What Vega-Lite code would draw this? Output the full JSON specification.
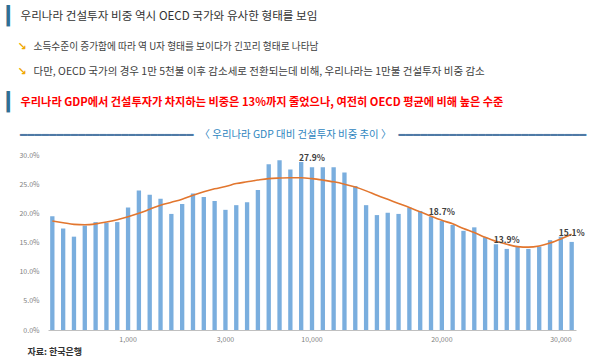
{
  "$schema": "https://vega.github.io/schema/vega-lite/v6.json",
  "padding": 0,
  "spacing": 0,
  "background": "white",
  "config": {
    "view": {"stroke": null},
    "font": "Noto Sans CJK KR",
    "concat": {"spacing": 0},
    "axisY": {
      "values": [0, 0.05, 0.1, 0.15, 0.2, 0.25, 0.3],
      "format": ".1%",
      "grid": false,
      "domain": false,
      "ticks": false,
      "labelFontSize": 7,
      "labelColor": "#808080",
      "labelPadding": 9,
      "minExtent": 48,
      "labelOverlap": false
    }
  },
  "vconcat": [
    {
      "width": 1,
      "height": 30,
      "data": {"values": [{"t": "우리나라 건설투자 비중 역시 OECD 국가와 유사한 형태를 보임"}]},
      "layer": [
        {"mark": {"type": "text", "text": "▎", "font": "DejaVu Sans", "fontSize": 18, "color": "#2f6f93", "align": "left", "baseline": "middle", "dx": -42, "dy": 2}},
        {"mark": {"type": "text", "align": "left", "baseline": "middle", "dx": -28, "dy": 2, "fontSize": 11.6, "color": "#333333"}, "encoding": {"text": {"field": "t"}}}
      ]
    },
    {
      "width": 1,
      "height": 30,
      "data": {"values": [{"t": "소득수준이 증가함에 따라 역 U자 형태를 보이다가 긴꼬리 형태로 나타남"}]},
      "layer": [
        {"mark": {"type": "text", "text": "↘", "font": "DejaVu Sans", "fontWeight": "bold", "fontSize": 11, "color": "#f0a800", "align": "left", "baseline": "middle", "dx": -31, "dy": 1.5}},
        {"mark": {"type": "text", "align": "left", "baseline": "middle", "dx": -15, "dy": 1.5, "fontSize": 9.7, "color": "#404040"}, "encoding": {"text": {"field": "t"}}}
      ]
    },
    {
      "width": 1,
      "height": 20,
      "data": {"values": [{"t": "다만, OECD 국가의 경우 1만 5천불 이후 감소세로 전환되는데 비해, 우리나라는 1만불 건설투자 비중 감소"}]},
      "layer": [
        {"mark": {"type": "text", "text": "↘", "font": "DejaVu Sans", "fontWeight": "bold", "fontSize": 11, "color": "#f0a800", "align": "left", "baseline": "middle", "dx": -31, "dy": 1.5}},
        {"mark": {"type": "text", "align": "left", "baseline": "middle", "dx": -15, "dy": 1.5, "fontSize": 10.5, "color": "#404040"}, "encoding": {"text": {"field": "t"}}}
      ]
    },
    {
      "width": 1,
      "height": 43,
      "data": {"values": [{"t": "우리나라 GDP에서 건설투자가 차지하는 비중은 13%까지 줄었으나, 여전히 OECD 평균에 비해 높은 수준"}]},
      "layer": [
        {"mark": {"type": "text", "text": "▎", "font": "DejaVu Sans", "fontSize": 18, "color": "#2f6f93", "align": "left", "baseline": "middle", "dx": -42, "dy": 1.5}},
        {"mark": {"type": "text", "align": "left", "baseline": "middle", "dx": -28, "dy": 1.5, "fontSize": 11.2, "fontWeight": "bold", "color": "#ff0000"}, "encoding": {"text": {"field": "t"}}}
      ]
    },
    {
      "width": 1,
      "height": 28,
      "data": {"values": [{"t": "〈 우리나라 GDP 대비 건설투자 비중 추이 〉"}]},
      "layer": [
        {"mark": {"type": "text", "text": "━━━━━━━━━━━━━━━━━━━━━━━━", "font": "DejaVu Sans", "fontSize": 12, "color": "#4f7aa6", "align": "right", "baseline": "middle", "dx": 145, "dy": -2.5}},
        {"mark": {"type": "text", "text": "━━━━━━━━━━━━━━━━━━━━━━━━━━", "font": "DejaVu Sans", "fontSize": 12, "color": "#4f7aa6", "align": "left", "baseline": "middle", "dx": 350, "dy": -2.5}},
        {"mark": {"type": "text", "align": "center", "baseline": "middle", "dx": 247, "dy": -2.5, "fontSize": 10.4, "color": "#2f86c0"}, "encoding": {"text": {"field": "t"}}}
      ]
    },
    {
      "width": 528,
      "height": 175,
      "data": {"values": [
        {"year": 1970, "share": 0.195, "trend": 0.187},
        {"year": 1971, "share": 0.174, "trend": 0.184},
        {"year": 1972, "share": 0.160, "trend": 0.181},
        {"year": 1973, "share": 0.179, "trend": 0.1805},
        {"year": 1974, "share": 0.185, "trend": 0.182},
        {"year": 1975, "share": 0.184, "trend": 0.185},
        {"year": 1976, "share": 0.185, "trend": 0.189},
        {"year": 1977, "share": 0.210, "trend": 0.194},
        {"year": 1978, "share": 0.239, "trend": 0.200},
        {"year": 1979, "share": 0.232, "trend": 0.207},
        {"year": 1980, "share": 0.225, "trend": 0.214},
        {"year": 1981, "share": 0.199, "trend": 0.219},
        {"year": 1982, "share": 0.216, "trend": 0.224},
        {"year": 1983, "share": 0.234, "trend": 0.231},
        {"year": 1984, "share": 0.228, "trend": 0.237},
        {"year": 1985, "share": 0.221, "trend": 0.242},
        {"year": 1986, "share": 0.206, "trend": 0.246},
        {"year": 1987, "share": 0.214, "trend": 0.251},
        {"year": 1988, "share": 0.219, "trend": 0.254},
        {"year": 1989, "share": 0.240, "trend": 0.257},
        {"year": 1990, "share": 0.284, "trend": 0.2595},
        {"year": 1991, "share": 0.291, "trend": 0.2605},
        {"year": 1992, "share": 0.275, "trend": 0.261},
        {"year": 1993, "share": 0.288, "trend": 0.261},
        {"year": 1994, "share": 0.279, "trend": 0.2595, "labeled": true},
        {"year": 1995, "share": 0.279, "trend": 0.257},
        {"year": 1996, "share": 0.279, "trend": 0.254},
        {"year": 1997, "share": 0.270, "trend": 0.250},
        {"year": 1998, "share": 0.247, "trend": 0.245},
        {"year": 1999, "share": 0.214, "trend": 0.2385},
        {"year": 2000, "share": 0.197, "trend": 0.231},
        {"year": 2001, "share": 0.201, "trend": 0.224},
        {"year": 2002, "share": 0.199, "trend": 0.217},
        {"year": 2003, "share": 0.210, "trend": 0.210},
        {"year": 2004, "share": 0.204, "trend": 0.2025},
        {"year": 2005, "share": 0.194, "trend": 0.195},
        {"year": 2006, "share": 0.187, "trend": 0.188, "labeled": true},
        {"year": 2007, "share": 0.180, "trend": 0.182},
        {"year": 2008, "share": 0.170, "trend": 0.174},
        {"year": 2009, "share": 0.176, "trend": 0.167},
        {"year": 2010, "share": 0.159, "trend": 0.159},
        {"year": 2011, "share": 0.147, "trend": 0.152},
        {"year": 2012, "share": 0.139, "trend": 0.147, "labeled": true},
        {"year": 2013, "share": 0.143, "trend": 0.143},
        {"year": 2014, "share": 0.139, "trend": 0.142},
        {"year": 2015, "share": 0.143, "trend": 0.144},
        {"year": 2016, "share": 0.154, "trend": 0.149},
        {"year": 2017, "share": 0.160, "trend": 0.156},
        {"year": 2018, "share": 0.151, "trend": 0.164, "labeled": true}
      ]},
      "encoding": {
        "x": {
          "field": "year",
          "type": "ordinal",
          "scale": {"paddingInner": 0.6, "paddingOuter": 0.2},
          "axis": {
            "labelExpr": "datum.value == 1977 ? '1,000' : datum.value == 1986 ? '3,000' : datum.value == 1994 ? '10,000' : datum.value == 2006 ? '20,000' : datum.value == 2017 ? '30,000' : ''",
            "labelAngle": 0,
            "labelOverlap": false,
            "ticks": false,
            "domainColor": "#c0c0c0",
            "labelFontSize": 7,
            "labelColor": "#808080",
            "labelPadding": 5,
            "title": "자료: 한국은행",
            "titleAnchor": "start",
            "titleAlign": "left",
            "titleBaseline": "middle",
            "titleX": -21,
            "titleY": 21,
            "titleFontSize": 9,
            "titleFontWeight": "bold",
            "titleColor": "#333333"
          }
        },
        "y": {
          "field": "share",
          "type": "quantitative",
          "scale": {"domain": [0, 0.3]},
          "title": null
        }
      },
      "layer": [
        {
          "mark": {"type": "bar", "color": "#7aaede"}
        },
        {
          "mark": {"type": "line", "color": "#e2762e", "strokeWidth": 1.6, "interpolate": "monotone"},
          "encoding": {"y": {"field": "trend", "type": "quantitative", "title": null}}
        },
        {
          "transform": [{"filter": "datum.labeled"}],
          "mark": {"type": "text", "baseline": "bottom", "dy": -4, "fontWeight": "bold", "fontSize": 8.5, "color": "#404040"},
          "encoding": {
            "text": {"field": "share", "type": "quantitative", "format": ".1%"}
          }
        }
      ]
    }
  ]
}
